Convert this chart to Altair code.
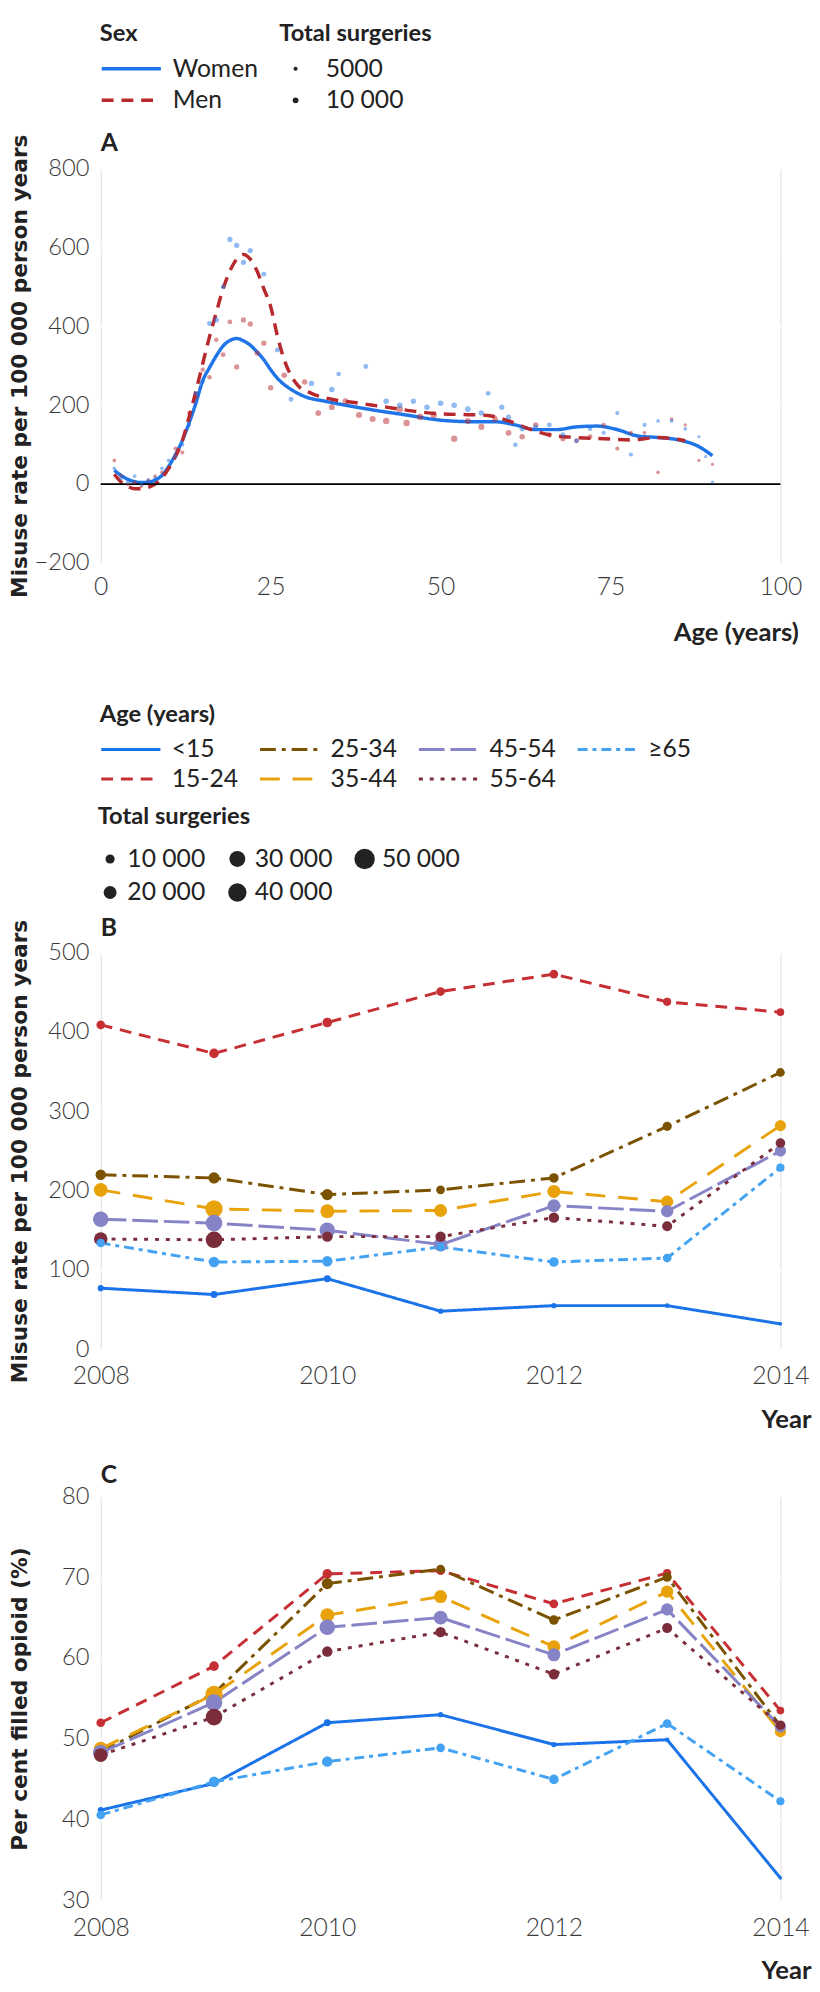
import altair as alt
import pandas as pd

# ================= Panel A: misuse rate by age and sex =================
sex_levels = ["Women", "Men"]

women_curve_age = [2, 3, 4, 5, 6, 7, 8, 9, 10, 11, 12, 13, 14, 15, 16, 17, 18, 19, 20, 21, 22, 23, 24, 25, 26, 27, 28,
                   30, 33, 36, 40, 45, 50, 55, 58, 61, 64, 67, 70, 73, 76, 79, 82, 85, 88, 90]
women_curve_rate = [35, 22, 12, 6, 4, 5, 10, 22, 45, 75, 110, 155, 205, 262, 295, 325, 350, 364, 369, 363, 352, 335, 315,
                    290, 268, 252, 240, 222, 210, 200, 188, 175, 162, 158, 158, 150, 138, 138, 145, 147, 138, 122, 118,
                    112, 95, 72]

men_curve_age = [2, 3, 4, 5, 6, 7, 8, 9, 10, 11, 12, 13, 14, 15, 16, 17, 18, 19, 20, 21, 22, 23, 24, 25, 26, 27, 28,
                 29, 31, 34, 38, 42, 46, 50, 54, 57, 60, 63, 66, 70, 74, 78, 82, 86]
men_curve_rate = [25, 5, -6, -12, -12, -8, 0, 15, 40, 70, 110, 170, 235, 305, 373, 435, 495, 540, 570, 582, 570, 540,
                  495, 450, 375, 315, 275, 250, 230, 215, 205, 195, 185, 178, 176, 174, 160, 140, 125, 118, 115, 112,
                  118, 110]

blue_pt_age = [2, 3, 4, 5, 6, 7, 8, 9, 10, 11, 12, 13, 14, 15, 16, 17, 18, 19, 20, 21, 22,
               24, 26, 28, 31, 34, 35, 39,
               42, 44, 46, 48, 50, 52, 54, 56, 57, 59, 60, 61, 62, 64, 66, 68, 70, 72, 74, 76, 78, 80, 82, 84, 86, 88,
               89, 90]
blue_pt_rate = [40, 15, 5, 20, 0, 10, 15, 40, 60, 70, 100, 150, 230, 260, 407, 416, 500, 620, 605, 562, 592,
                532, 340, 215, 255, 240, 279, 298,
                210, 200, 210, 195, 205, 200, 190, 180, 230, 195, 170, 100, 140, 145, 150, 125, 110, 140, 130, 180, 75,
                150, 160, 160, 140, 120, 70, 5]
blue_pt_n = [4000, 4000, 4000, 4000, 4000, 4000, 4000, 4000, 4500, 4500, 5000, 5000, 6000, 6000, 7000, 8000, 7000,
             8000, 8000, 8000, 8000,
             7000, 7000, 7000, 8000, 9000, 6000, 7000,
             9000, 9000, 8000, 9000, 9000, 9000, 9000, 9000, 7000, 8000, 8000, 6000, 8000, 7000, 7000, 7000, 6000,
             6000, 5000, 5000, 5000, 5000, 4000, 4000, 4000, 3000, 3000, 3000]

red_pt_age = [2, 3, 4, 5, 6, 7, 8, 9, 10, 11, 12, 13, 14, 15, 16, 17, 18, 19, 20, 21, 22, 23, 24, 25,
              27, 30, 32, 34, 36, 38, 40, 42, 44, 45, 47, 49, 52, 54, 56, 58, 60, 62, 64, 66, 68, 70, 72, 74, 76, 78,
              80, 82, 84, 86, 88, 90]
red_pt_rate = [60, 20, 0, 5, -5, 10, 20, 30, 40, 90, 80, 180, 220, 290, 271, 366, 328, 411, 297, 416, 406, 332, 357,
               244,
               276, 259, 180, 195, 210, 175, 165, 160, 190, 155, 170, 175, 115, 160, 145, 165, 130, 120, 150, 125, 115,
               110, 120, 150, 90, 130, 130, 30, 165, 150, 60, 50]
red_pt_n = [4000, 4000, 4000, 4000, 4000, 4000, 4000, 4000, 4000, 5000, 5000, 5000, 6000, 6000, 6000, 6000, 7000,
            7000, 8000, 8000, 8000, 8000, 8000, 9000,
            9000, 9000, 10000, 10000, 10000, 11000, 11000, 12000, 12000, 12000, 12000, 12000, 12000, 11000, 11000,
            10000, 10000, 9000, 9000, 8000, 8000, 7000, 7000, 6000, 5000, 5000, 4000, 4000, 4000, 3000, 3000, 3000]

a_x_ticks = [0, 25, 50, 75, 100]
a_y_ticks = [-200, 0, 200, 400, 600, 800]
a_inner_ticks = [25, 50, 75]

# ================= Panels B and C: by year and age group =================
years = [2008, 2009, 2010, 2011, 2012, 2013, 2014]
age_groups = ["<15", "15-24", "25-34", "35-44", "45-54", "55-64", "≥65"]

misuse_rate = {
    "<15":   [77, 69, 89, 48, 55, 55, 32],
    "15-24": [409, 373, 412, 451, 473, 438, 425],
    "25-34": [220, 216, 195, 201, 216, 281, 349],
    "35-44": [201, 177, 174, 175, 199, 186, 282],
    "45-54": [164, 159, 150, 132, 181, 174, 250],
    "55-64": [139, 138, 142, 142, 166, 155, 260],
    "≥65":   [134, 110, 111, 129, 110, 115, 229],
}
pct_filled = {
    "<15":   [41.2, 44.5, 52.0, 53.0, 49.3, 49.9, 32.8],
    "15-24": [52.0, 59.0, 70.4, 70.8, 66.7, 70.5, 53.5],
    "25-34": [48.4, 55.6, 69.2, 71.0, 64.7, 70.0, 51.6],
    "35-44": [48.8, 55.5, 65.3, 67.6, 61.4, 68.2, 50.9],
    "45-54": [48.3, 54.5, 63.8, 65.0, 60.4, 66.0, 51.5],
    "55-64": [48.0, 52.7, 60.8, 63.2, 58.0, 63.7, 51.7],
    "≥65":   [40.6, 44.7, 47.2, 48.9, 45.0, 51.9, 42.3],
}
total_surgeries = {
    "<15":   [4500, 5800, 5800, 3300, 3300, 2500, 1500],
    "15-24": [9000, 11000, 11000, 9000, 9000, 8000, 7000],
    "25-34": [13000, 15000, 15000, 9000, 11000, 10000, 9000],
    "35-44": [23000, 36000, 23000, 20000, 20000, 18000, 15000],
    "45-54": [29000, 33000, 29000, 23000, 20000, 18000, 15000],
    "55-64": [22000, 33000, 13000, 13000, 13000, 12000, 11000],
    "≥65":   [9000, 13000, 13000, 9000, 11000, 9000, 8000],
}
group_colors = {
    "<15": "#1a73e8", "15-24": "#c62f33", "25-34": "#7a5200", "35-44": "#e8a20c",
    "45-54": "#8683c6", "55-64": "#7b2d3c", "≥65": "#44a2f2",
}
group_dashes = {
    "<15": [1, 0], "15-24": [12, 8], "25-34": [16, 6, 4, 6], "35-44": [20, 13],
    "45-54": [26, 6], "55-64": [4, 7], "≥65": [10, 5, 4, 5],
}
year_ticks = [2008, 2010, 2012, 2014]
year_inner_ticks = [2010, 2012]
b_y_ticks = [0, 100, 200, 300, 400, 500]
c_y_ticks = [30, 40, 50, 60, 70, 80]
size_values_a = [5000, 10000]
size_values_b = [10000, 20000, 30000, 40000, 50000]

# ================= build tables =================
curve_rows = []
for a, r in zip(women_curve_age, women_curve_rate):
    curve_rows.append({"age": a, "rate": r, "sex": "Women"})
for a, r in zip(men_curve_age, men_curve_rate):
    curve_rows.append({"age": a, "rate": r, "sex": "Men"})
df_curve = pd.DataFrame(curve_rows)

pt_rows = []
for a, r, n in zip(red_pt_age, red_pt_rate, red_pt_n):
    pt_rows.append({"age": a, "rate": r, "n": n, "sex": "Men"})
for a, r, n in zip(blue_pt_age, blue_pt_rate, blue_pt_n):
    pt_rows.append({"age": a, "rate": r, "n": n, "sex": "Women"})
df_pts = pd.DataFrame(pt_rows)

rows = []
for g in age_groups:
    for i, yr in enumerate(years):
        rows.append({"year": yr, "group": g, "misuse": misuse_rate[g][i],
                     "filled": pct_filled[g][i], "n": total_surgeries[g][i]})
df_bc = pd.DataFrame(rows)

# ================= styling =================
W = 689
HA, HB, HC = 400, 402, 410
LAB_FONT = "Lato"
TTL_FONT = "Lato"
YT_FONT = "DejaVu Sans"
TXT = "#222222"
LABC = "#3a3a3a"
NUM_EXPR = "datum.value >= 10000 ? replace(format(datum.value, ','), ',', ' ') : format(datum.value, 'd')"


def x_axis(title, values, title_x, fmt, pad):
    return alt.Axis(title=title, values=values, format=fmt, labelFlush=False, grid=False,
                    domain=False, ticks=False,
                    labelFont=LAB_FONT, labelFontSize=25, labelFontWeight=300, labelColor=LABC,
                    labelPadding=pad, titleAlign="right", titleX=title_x, titleY=79,
                    titleBaseline="alphabetic", titleFont=TTL_FONT, titleFontSize=26,
                    titleFontWeight="bold", titleColor=TXT)


def y_axis(title, values, h):
    return alt.Axis(title=title, values=values, grid=True, gridColor="white", gridWidth=2.5,
                    domain=False, ticks=False,
                    labelFont=LAB_FONT, labelFontSize=24, labelFontWeight=300, labelColor=LABC,
                    labelPadding=12, titleX=-70, titleY=h / 2, titleAngle=270, titleBaseline="bottom",
                    titleAlign="center", titleFont=YT_FONT, titleFontSize=22, titleFontWeight="bold",
                    titleColor=TXT)


def legend_common(**kw):
    base = dict(orient="none", direction="vertical", titleFont=TTL_FONT, titleFontSize=24,
                titleFontWeight="bold", titleColor=TXT, labelFont=LAB_FONT, labelFontSize=25,
                labelColor=TXT, rowPadding=0)
    base.update(kw)
    return alt.Legend(**base)


one = pd.DataFrame({"label": ["A"]})

# ---------------- Panel A ----------------
xA = alt.X("age:Q", scale=alt.Scale(domain=[0, 100], nice=False),
           axis=x_axis("Age (years)", a_x_ticks, W + 18, "d", 12))
yA = alt.Y("rate:Q", scale=alt.Scale(domain=[-200, 800], nice=False),
           axis=y_axis("Misuse rate per 100 000 person years", a_y_ticks, HA))

sex_color = alt.Scale(domain=sex_levels, range=["#1f75e8", "#b8292e"])
sex_dash = alt.Scale(domain=sex_levels, range=[[1, 0], [12, 8]])

sex_legend = legend_common(title="Sex", legendX=-1, legendY=-148, columns=1, symbolType="stroke",
                           symbolSize=3600, symbolStrokeWidth=3.5, clipHeight=32, labelOffset=10,
                           titlePadding=7)
size_legend_a = legend_common(title="Total surgeries", legendX=181, legendY=-148, values=size_values_a,
                              symbolType="circle", symbolFillColor="#222222", symbolStrokeWidth=0,
                              symbolOpacity=1, clipHeight=32, symbolOffset=4, labelOffset=18,
                              titlePadding=7, labelExpr=NUM_EXPR)

zero_line = alt.Chart(pd.DataFrame({"age": [0], "rate": [0]})).mark_rule(
    color="black", strokeWidth=1.6).encode(y=yA)

ticks_a = alt.Chart(pd.DataFrame({"age": a_inner_ticks, "rate": [-200, -200, -200],
                                  "rate2": [-188, -188, -188]})).mark_rule(
    color="white", strokeWidth=2.5).encode(x=xA, y=yA, y2="rate2:Q")

points_a = alt.Chart(df_pts).mark_circle(opacity=0.5).encode(
    x=xA, y=yA,
    fill=alt.Fill("sex:N", scale=sex_color, legend=None),
    size=alt.Size("n:Q", scale=alt.Scale(domain=[0, 10000], range=[0, 35]), legend=size_legend_a),
)

lines_a = alt.Chart(df_curve).mark_line(strokeWidth=3.5, interpolate="monotone").encode(
    x=xA, y=yA,
    color=alt.Color("sex:N", scale=sex_color, legend=sex_legend),
    strokeDash=alt.StrokeDash("sex:N", scale=sex_dash, legend=sex_legend),
    detail="sex:N",
)

label_a = alt.Chart(pd.DataFrame({"label": ["A"]})).mark_text(
    align="left", baseline="alphabetic", font=TTL_FONT, fontSize=25, fontWeight="bold", color=TXT
).encode(x=alt.value(0), y=alt.value(-18), text="label:N")

spacer_a = alt.Chart(one).mark_rule(opacity=0).encode(x=alt.value(0), y=alt.value(HA), y2=alt.value(HA + 110))

chart_a = alt.layer(lines_a, zero_line, points_a, ticks_a, label_a, spacer_a).properties(width=W, height=HA)

# ---------------- Panels B and C ----------------
color_bc = alt.Scale(domain=age_groups, range=[group_colors[g] for g in age_groups])
dash_bc = alt.Scale(domain=age_groups, range=[group_dashes[g] for g in age_groups])
size_bc = alt.Scale(domain=[0, 50000], range=[0, 430])

age_legend = legend_common(title="Age (years)", legendX=-1, legendY=-253, columns=4, gridAlign="all",
                           symbolType="stroke", symbolSize=3600, symbolStrokeWidth=3, clipHeight=30,
                           labelOffset=10, columnPadding=20, titlePadding=8)
size_legend_b = legend_common(title="Total surgeries", legendX=-3, legendY=-149, columns=3, gridAlign="all",
                              values=size_values_b, symbolType="circle", symbolFillColor="#222222",
                              symbolStrokeWidth=0, symbolOpacity=1, clipHeight=34, labelOffset=5,
                              columnPadding=20, titlePadding=13, labelExpr=NUM_EXPR)


def year_panel(field, ydomain, yticks, ytitle, h, letter, letter_y, show_legend):
    xB = alt.X("year:Q", scale=alt.Scale(domain=[2008, 2014], nice=False, zero=False),
               axis=x_axis("Year", year_ticks, W + 31, "d", 15))
    yB = alt.Y(f"{field}:Q", scale=alt.Scale(domain=ydomain, nice=False, zero=False),
               axis=y_axis(ytitle, yticks, h))
    tick_len = (ydomain[1] - ydomain[0]) * 6 / h
    tdf = pd.DataFrame({"year": year_inner_ticks, field: [ydomain[0], ydomain[0]],
                        f"{field}2": [ydomain[0] + tick_len, ydomain[0] + tick_len]})
    ticks = alt.Chart(tdf).mark_rule(color="white", strokeWidth=2.5).encode(x=xB, y=yB, y2=f"{field}2:Q")
    lines = alt.Chart(df_bc).mark_line(strokeWidth=3).encode(
        x=xB, y=yB,
        color=alt.Color("group:N", scale=color_bc, legend=age_legend if show_legend else None),
        strokeDash=alt.StrokeDash("group:N", scale=dash_bc, legend=age_legend if show_legend else None),
        detail="group:N",
    )
    pts = alt.Chart(df_bc).mark_circle(opacity=1).encode(
        x=xB, y=yB,
        fill=alt.Fill("group:N", scale=color_bc, legend=None),
        size=alt.Size("n:Q", scale=size_bc, legend=size_legend_b if show_legend else None),
    )
    lab = alt.Chart(pd.DataFrame({"label": [letter]})).mark_text(
        align="left", baseline="alphabetic", font=TTL_FONT, fontSize=25, fontWeight="bold", color=TXT
    ).encode(x=alt.value(0), y=alt.value(letter_y), text="label:N")
    return alt.layer(lines, pts, ticks, lab).properties(width=W, height=h)


chart_b = year_panel("misuse", [0, 500], b_y_ticks, "Misuse rate per 100 000 person years", HB, "B", -17, True)
chart_c = year_panel("filled", [30, 80], c_y_ticks, "Per cent filled opioid (%)", HC, "C", -13, False)

chart = alt.vconcat(chart_a, chart_b, chart_c, spacing=30).resolve_scale(
    color="independent", fill="independent", size="independent", strokeDash="independent",
    x="independent", y="independent",
).properties(padding=0).configure_view(
    fill="#EBEBEB", stroke="transparent"
).configure(background="white")

chart.save("out.html", embed_options={"renderer": "svg", "actions": False})
